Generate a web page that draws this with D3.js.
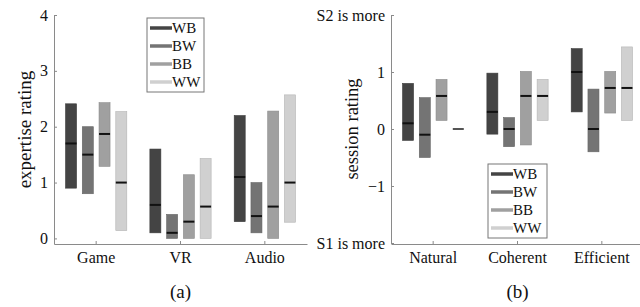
<!DOCTYPE html>
<html>
<head>
<meta charset="utf-8">
<script src="https://cdn.jsdelivr.net/npm/d3@7"></script>
<style>
  body { margin: 0; background: #fff; }
  svg { font-family: "Liberation Serif", "Times New Roman", serif; }
</style>
</head>
<body>
<svg id="chart" width="640" height="307"></svg>
<script>
const series = ['WB', 'BW', 'BB', 'WW'];
const colors = ['#444444', '#747474', '#a0a0a0', '#d0d0d0'];

// panel (a)
const categoriesA = ['Game', 'VR', 'Audio'];
const minA = [[0.9, 0.8, 1.29, 0.14], [0.1, 0.0, 0.0, 0.0], [0.3, 0.1, 0.0, 0.29]];
const maxA = [[2.41, 2.0, 2.43, 2.27], [1.6, 0.43, 1.14, 1.43], [2.2, 1.0, 2.28, 2.57]];
const medA = [[1.7, 1.5, 1.87, 1.0], [0.6, 0.1, 0.3, 0.57], [1.1, 0.4, 0.57, 1.0]];
const ticksA = [0, 1, 2, 3, 4];

// panel (b)
const categoriesB = ['Natural', 'Coherent', 'Efficient'];
const minB = [[-0.2, -0.5, 0.15, 0.0], [-0.09, -0.31, -0.28, 0.15], [0.3, -0.4, 0.28, 0.15]];
const maxB = [[0.8, 0.55, 0.87, 0.0], [0.98, 0.2, 1.01, 0.87], [1.41, 0.7, 1.01, 1.44]];
const medB = [[0.1, -0.1, 0.58, 0.0], [0.3, 0.0, 0.58, 0.58], [1.0, 0.0, 0.72, 0.72]];
const ticksB = [-2, -1, 0, 1, 2];
const tickLabelsB = { '2': 'S2 is more', '-2': 'S1 is more' };

const svg = d3.select('#chart');
const serif = '"Liberation Serif", "Times New Roman", serif';

function drawPanel(opt) {
  const x0 = d3.scaleBand().domain(opt.categories).range(opt.xRange).padding(0);
  const x1 = d3.scaleBand().domain(series).range([-33.5, 33.5]).padding(0);
  const y = d3.scaleLinear().domain(opt.yDomain).range(opt.yRange);
  const barW = 11;
  const barX = d => x0(d.cat) + x0.bandwidth() / 2 + x1(d.s) + (x1.bandwidth() - barW) / 2;

  const rows = [];
  opt.categories.forEach((c, i) => {
    series.forEach((s, j) => {
      rows.push({ cat: c, s: s, j: j, lo: opt.min[i][j], hi: opt.max[i][j], med: opt.med[i][j] });
    });
  });

  const g = svg.append('g');

  g.selectAll('.bar')
    .data(rows.filter(d => d.hi > d.lo))
    .enter()
    .append('rect')
    .attr('class', 'bar')
    .attr('x', barX)
    .attr('width', barW)
    .attr('y', d => y(d.hi))
    .attr('height', d => y(d.lo) - y(d.hi))
    .style('fill', d => colors[d.j])
    .style('stroke', d => d3.color(colors[d.j]).darker(0.4))
    .style('stroke-width', 0.6);

  g.selectAll('.med')
    .data(rows)
    .enter()
    .append('line')
    .attr('class', 'med')
    .attr('x1', barX)
    .attr('x2', d => barX(d) + barW)
    .attr('y1', d => y(d.med))
    .attr('y2', d => y(d.med))
    .style('stroke', d => d.hi > d.lo ? '#111' : '#555')
    .style('stroke-width', 2);

  // axes
  const xAxis = d3.axisBottom(x0).tickSizeInner(-3).tickSizeOuter(0).tickPadding(8);
  const gx = g.append('g')
    .attr('transform', `translate(0,${opt.yRange[0] + opt.xShift})`)
    .call(xAxis);

  const yAxis = d3.axisLeft(y).tickValues(opt.ticks).tickSizeInner(-3).tickSizeOuter(0)
    .tickPadding(6).tickFormat(opt.tickFormat);
  const gy = g.append('g')
    .attr('transform', `translate(${opt.xRange[0]},0)`)
    .call(yAxis);

  [gx, gy].forEach(a => {
    a.attr('font-family', null);
    a.select('.domain').style('stroke', '#8a8a8a');
    a.selectAll('.tick line').style('stroke', '#8a8a8a');
    a.selectAll('.tick text')
      .style('font-family', serif)
      .style('font-size', '16px')
      .style('fill', '#111');
  });

  // y label
  g.append('text')
    .attr('transform', `translate(${opt.yLabelX},${(opt.yRange[0] + opt.yRange[1]) / 2}) rotate(-90)`)
    .attr('text-anchor', 'middle')
    .style('font-family', serif)
    .style('font-size', opt.yLabelSize)
    .style('fill', '#111')
    .text(opt.yLabel);

  // caption
  g.append('text')
    .attr('x', x0(opt.categories[1]) + x0.bandwidth() / 2)
    .attr('y', 298)
    .attr('text-anchor', 'middle')
    .style('font-family', serif)
    .style('font-size', '19px')
    .style('fill', '#111')
    .text(opt.caption);

  // legend
  const lg = g.append('g').attr('transform', `translate(${opt.legend[0]},${opt.legend[1]})`);
  lg.append('rect')
    .attr('width', opt.legend[2])
    .attr('height', 74)
    .style('fill', '#fff')
    .style('stroke', '#777')
    .style('stroke-width', 1);
  series.forEach((s, j) => {
    const ly = 10 + j * 18;
    lg.append('line')
      .attr('x1', 3).attr('x2', 25)
      .attr('y1', ly).attr('y2', ly)
      .style('stroke', colors[j])
      .style('stroke-width', 3.5);
    lg.append('text')
      .attr('x', 25)
      .attr('y', ly)
      .attr('dy', '0.35em')
      .style('font-family', serif)
      .style('font-size', '15px')
      .style('fill', '#111')
      .text(s);
  });
}

drawPanel({
  categories: categoriesA, min: minA, max: maxA, med: medA,
  xRange: [54, 307], yDomain: [-0.1, 4], yRange: [244, 15], xShift: 0,
  ticks: ticksA, tickFormat: d3.format('d'),
  yLabel: 'expertise rating', yLabelX: 31, yLabelSize: '19px', caption: '(a)',
  legend: [147, 18, 57]
});

drawPanel({
  categories: categoriesB, min: minB, max: maxB, med: medB,
  xRange: [391, 644], yDomain: [-2, 2], yRange: [243, 15], xShift: 1,
  ticks: ticksB, tickFormat: d => tickLabelsB[d] || d3.format('d')(d),
  yLabel: 'session rating', yLabelX: 358, yLabelSize: '18.5px', caption: '(b)',
  legend: [488, 164, 59]
});
</script>
</body>
</html>
